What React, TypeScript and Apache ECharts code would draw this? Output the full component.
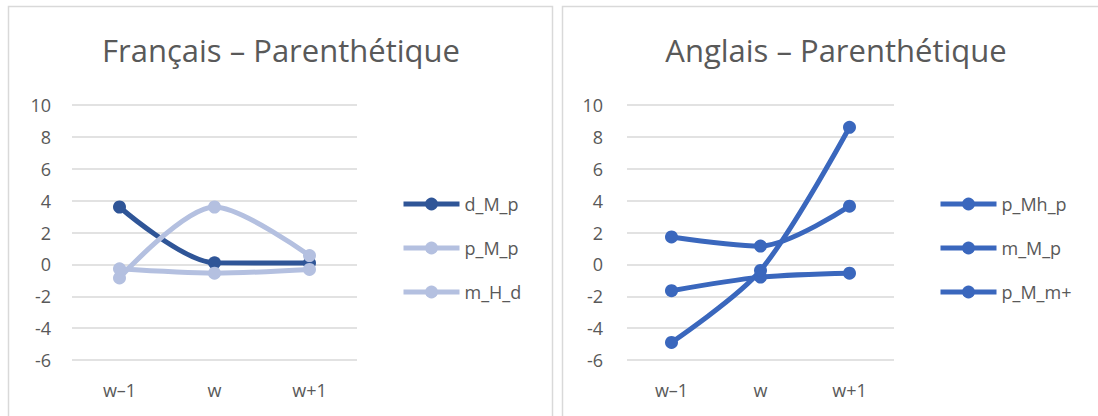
import React, { useEffect, useRef } from "react";
import * as echarts from "echarts";

const categories = ["w\u20131", "w", "w+1"];

const leftTitle = "Français – Parenthétique";
const rightTitle = "Anglais – Parenthétique";

const leftNames = ["d_M_p", "p_M_p", "m_H_d"];
const leftColors = ["#2F5597", "#B4C0E0", "#B4C0E0"];
const d_M_p = [3.6, 0.1, 0.08];
const p_M_p = [-0.85, 3.6, 0.55];
const m_H_d = [-0.28, -0.55, -0.32];

const rightNames = ["p_Mh_p", "m_M_p", "p_M_m+"];
const rightColor = "#3A67BD";
const p_Mh_p = [1.72, 1.15, 3.65];
const m_M_p = [-1.65, -0.8, -0.55];
const p_M_mplus = [-4.9, -0.38, 8.6];

const yMin = -6;
const yMax = 10;
const yInterval = 2;

const TEXT = "#595959";
const GRID = "#D9D9D9";
const FONT = "Open Sans, Noto Sans, sans-serif";

export default function App() {
  const ref = useRef<HTMLDivElement>(null);

  useEffect(() => {
    if (!ref.current) return;
    const chart = echarts.init(ref.current, null, { renderer: "svg" });

    const yAxis = (gridIndex: number, margin: number) => ({
      type: "value",
      gridIndex,
      min: yMin,
      max: yMax,
      interval: yInterval,
      axisLine: { show: false },
      axisTick: { show: false },
      axisLabel: { color: TEXT, fontSize: 18, fontFamily: FONT, margin },
      splitLine: { show: true, showMinLine: true, showMaxLine: true, lineStyle: { color: GRID, width: 1.5 } },
    });
    const xAxis = (gridIndex: number) => ({
      type: "category",
      gridIndex,
      data: categories,
      boundaryGap: true,
      axisLine: { show: false },
      axisTick: { show: false },
      axisLabel: { color: TEXT, fontSize: 18, fontFamily: FONT, margin: 21 },
      splitLine: { show: false },
    });

    const mkSeries = (name: string, data: number[], color: string, idx: number) => ({
      name,
      type: "line",
      xAxisIndex: idx,
      yAxisIndex: idx,
      data,
      smooth: 0.3,
      symbol: "circle",
      symbolSize: 13,
      showSymbol: true,
      itemStyle: { color },
      lineStyle: { color, width: 5 },
      emphasis: { disabled: true },
    });

    const legend = (names: string[], left: number) => ({
      data: names,
      orient: "vertical",
      left,
      top: 190,
      itemWidth: 56,
      itemHeight: 16,
      itemGap: 26,
      lineStyle: { width: 5 },
      textStyle: { color: TEXT, fontSize: 18, fontFamily: FONT },
      selectedMode: false,
    });

    chart.setOption({
      animation: false,
      backgroundColor: "#ffffff",
      grid: [
        { left: 72, top: 105, width: 285, height: 255 },
        { left: 627, top: 105, width: 267, height: 255 },
      ],
      xAxis: [xAxis(0), xAxis(1)],
      yAxis: [yAxis(0, 21), yAxis(1, 24)],
      legend: [legend(leftNames, 396), legend(rightNames, 933)],
      series: [
        mkSeries(leftNames[0], d_M_p, leftColors[0], 0),
        mkSeries(leftNames[1], p_M_p, leftColors[1], 0),
        mkSeries(leftNames[2], m_H_d, leftColors[2], 0),
        mkSeries(rightNames[0], p_Mh_p, rightColor, 1),
        mkSeries(rightNames[1], m_M_p, rightColor, 1),
        mkSeries(rightNames[2], p_M_mplus, rightColor, 1),
      ],
      graphic: [
        {
          type: "rect",
          shape: { x: 8.5, y: 6.5, width: 544, height: 420 },
          style: { fill: "none", stroke: GRID, lineWidth: 1.5 },
          silent: true,
        },
        {
          type: "rect",
          shape: { x: 562.5, y: 6.5, width: 560, height: 420 },
          style: { fill: "none", stroke: GRID, lineWidth: 1.5 },
          silent: true,
        },
        {
          type: "text",
          x: 281,
          y: 50,
          style: {
            text: leftTitle,
            fill: TEXT,
            fontSize: 31,
            fontFamily: FONT,
            textAlign: "center",
            textVerticalAlign: "middle",
          },
          silent: true,
        },
        {
          type: "text",
          x: 836,
          y: 50,
          style: {
            text: rightTitle,
            fill: TEXT,
            fontSize: 31,
            fontFamily: FONT,
            textAlign: "center",
            textVerticalAlign: "middle",
          },
          silent: true,
        },
      ],
    });

    return () => chart.dispose();
  }, []);

  return (
    <div
      ref={ref}
      style={{ position: "absolute", left: 0, top: 0, width: 1098, height: 416 }}
    />
  );
}
